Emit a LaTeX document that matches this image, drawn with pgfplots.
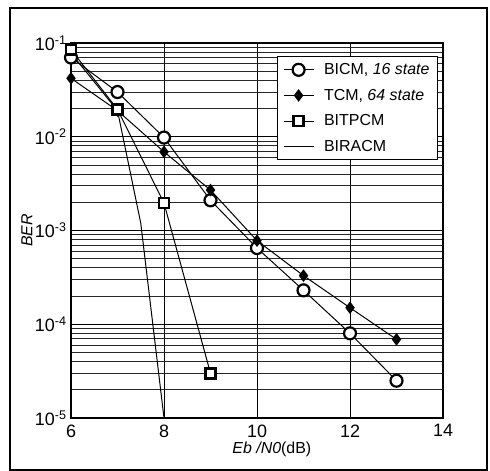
\documentclass[border=0pt]{standalone}
\usepackage{fontspec}
\setmainfont{Liberation Sans}
\usepackage{pgfplots}
\pgfplotsset{compat=1.18}
\begin{document}
\begin{tikzpicture}[x=1bp,y=1bp]
\path[use as bounding box] (0,0) rectangle (490,471);
\draw[line width=1.2bp] (10,1) rectangle (487,463);
\begin{axis}[
  at={(71bp,53bp)}, anchor=south west,
  scale only axis, width=372bp, height=375bp,
  ymode=log, xmin=6, xmax=14, ymin=1e-5, ymax=1e-1,
  xtick={6,8,10,12,14},
  /pgf/number format/assume math mode=true,
  ytick={1e-5,1e-4,1e-3,1e-2,1e-1},
  yticklabels={10\textsuperscript{-5},10\textsuperscript{-4},10\textsuperscript{-3},10\textsuperscript{-2},10\textsuperscript{-1}},
  minor ytick={2e-5,3e-5,4e-5,5e-5,6e-5,7e-5,8e-5,9e-5,2e-4,3e-4,4e-4,5e-4,6e-4,7e-4,8e-4,9e-4,2e-3,3e-3,4e-3,5e-3,6e-3,7e-3,8e-3,9e-3,2e-2,3e-2,4e-2,5e-2,6e-2,7e-2,8e-2,9e-2},
  xmajorgrids, ymajorgrids, yminorgrids,
  major grid style={black, line width=0.8bp},
  minor grid style={black!85, line width=0.7bp},
  axis line style={line width=1.5bp},
  major tick style={draw=none}, minor tick style={draw=none},
  ticklabel style={font=\fontsize{18}{20}\selectfont},
  xticklabel style={yshift=-3bp},
  yticklabel style={xshift=-1bp},
  xlabel={\textit{Eb /N0}(dB)},
  xlabel style={font=\fontsize{16}{18}\selectfont, at={(axis description cs:0.54,0)}, anchor=north, yshift=-20bp},
  ylabel={\textit{BER}},
  ylabel style={font=\fontsize{16}{18}\selectfont, at={(axis description cs:0,0.5)}, anchor=south, yshift=35bp},
  legend cell align=left,
  legend style={at={(rel axis cs:0.9866,0.9653)}, anchor=north east, draw=black, line width=1bp,
    font=\fontsize{16}{18}\selectfont, row sep=9bp, inner xsep=6bp, inner ysep=5bp},
  legend image code/.code={\draw[mark repeat=2,mark phase=2,#1] plot coordinates {(0bp,0bp) (15bp,0bp) (30bp,0bp)}; \path (38bp,0bp);},
]
\addplot[black, line width=1bp, mark=*, mark size=6bp, mark options={fill=white, draw=black, line width=2.2bp}]
  coordinates {(6,0.07) (7,0.03) (8,0.0098) (9,0.0021) (10,6.5e-4) (11,2.3e-4) (12,8e-5) (13,2.5e-5)};
\addlegendentry{BICM, \textit{16 state}}
\addplot[black, line width=1bp, mark=diamond*, mark size=5.5bp, mark options={fill=black, draw=black, line width=1bp}]
  coordinates {(6,0.042) (7,0.019) (8,0.0069) (9,0.0027) (10,7.8e-4) (11,3.3e-4) (12,1.5e-4) (13,6.9e-5)};
\addlegendentry{TCM, \textit{64 state}}
\addplot[black, line width=1bp, mark=square*, mark size=5bp, mark options={fill=white, draw=black, line width=2.5bp}]
  coordinates {(6,0.085) (7,0.0196) (8,0.00196) (9,3.0e-5)};
\addlegendentry{BITPCM}
\addplot[black, line width=1bp, mark=none]
  coordinates {(6,0.078) (7,0.019) (7.5,0.0012) (8,1e-5)};
\addlegendentry{BIRACM}
\end{axis}
\end{tikzpicture}
\end{document}
